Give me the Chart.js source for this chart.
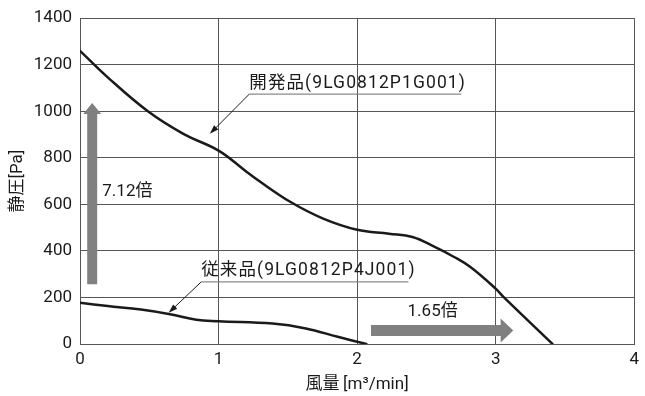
<!DOCTYPE html>
<html lang="ja">
<head>
<meta charset="utf-8">
<script src="https://cdn.jsdelivr.net/npm/chart.js@4/dist/chart.umd.min.js"></script>
<style>
  html, body { margin: 0; padding: 0; background: #fff; }
  #wrap { width: 645px; height: 396px; }
</style>
</head>
<body>
<div id="wrap"><canvas id="c" width="645" height="396"></canvas></div>
<script>
// P-Q curves: flow [m3/min] vs static pressure [Pa]
const flowDev = [0, 0.2, 0.49, 0.746, 1.0, 1.19, 1.28, 1.52, 1.755, 2.0, 2.23, 2.40, 2.56, 2.70, 2.82, 3.0, 3.06, 3.41];
const pressureDev = [1260, 1146, 1000, 903, 831, 746, 706, 610, 539, 491, 474, 460, 417, 374, 330, 238, 200, 0];
const flowConv = [0, 0.2, 0.44, 0.65, 0.84, 1.0, 1.39, 1.63, 1.86, 2.067];
const pressureConv = [177, 163, 148, 128, 104, 98, 88, 67, 31, 0];

const flowTicks = [0, 1, 2, 3, 4];
const pressureTicks = [0, 200, 400, 600, 800, 1000, 1200, 1400];

const seriesNames = ['開発品(9LG0812P1G001)', '従来品(9LG0812P4J001)'];
const ratioLabels = ['7.12倍', '1.65倍'];

const FONT = 'Roboto, "Noto Sans CJK JP", sans-serif';
const INK = '#1a1a1a';
const GRID = '#555555';
const ARROW = '#808080';

const toPoints = (xs, ys) => xs.map((x, i) => ({ x, y: ys[i] }));

// Callouts (anchored in data units) and comparison arrows
const callouts = [
  { text: seriesNames[0], x: 1.222, y: 1118, lineY: 1074, lineEnd: 2.752, tipX: 0.937, tipY: 903 },
  { text: seriesNames[1], x: 0.875, y: 315, lineY: 267, lineEnd: 2.37, tipX: 0.64, tipY: 134 }
];
const bigArrows = [
  { from: [0.088, 257], to: [0.088, 1036], shaft: 10, headLen: 11, headW: 18,
    label: ratioLabels[0], lx: 0.161, ly: 656, align: 'left' },
  { from: [2.10, 58], to: [3.127, 58], shaft: 11, headLen: 12.6, headW: 24,
    label: ratioLabels[1], lx: 2.545, ly: 139, align: 'center' }
];

function blockArrow(ctx, x1, y1, x2, y2, shaft, headLen, headW) {
  const ang = Math.atan2(y2 - y1, x2 - x1);
  const len = Math.hypot(x2 - x1, y2 - y1);
  ctx.save();
  ctx.translate(x1, y1);
  ctx.rotate(ang);
  ctx.beginPath();
  ctx.moveTo(0, -shaft / 2);
  ctx.lineTo(len - headLen, -shaft / 2);
  ctx.lineTo(len - headLen, -headW / 2);
  ctx.lineTo(len, 0);
  ctx.lineTo(len - headLen, headW / 2);
  ctx.lineTo(len - headLen, shaft / 2);
  ctx.lineTo(0, shaft / 2);
  ctx.closePath();
  ctx.fillStyle = ARROW;
  ctx.fill();
  ctx.restore();
}

function leader(ctx, x1, y1, x2, y2) {
  const ang = Math.atan2(y2 - y1, x2 - x1);
  const hl = 9, hw = 3;
  ctx.save();
  ctx.strokeStyle = INK;
  ctx.fillStyle = INK;
  ctx.lineWidth = 1;
  ctx.beginPath();
  ctx.moveTo(x1, y1);
  ctx.lineTo(x2 - Math.cos(ang) * hl * 0.8, y2 - Math.sin(ang) * hl * 0.8);
  ctx.stroke();
  ctx.translate(x2, y2);
  ctx.rotate(ang);
  ctx.beginPath();
  ctx.moveTo(0, 0);
  ctx.lineTo(-hl, -hw);
  ctx.lineTo(-hl, hw);
  ctx.closePath();
  ctx.fill();
  ctx.restore();
}

const annotate = {
  id: 'annotate',
  beforeDatasetsDraw(chart) {
    const { ctx, scales: { x, y } } = chart;
    bigArrows.forEach(a => {
      blockArrow(ctx,
        x.getPixelForValue(a.from[0]), y.getPixelForValue(a.from[1]),
        x.getPixelForValue(a.to[0]), y.getPixelForValue(a.to[1]),
        a.shaft, a.headLen, a.headW);
    });
  },
  afterDatasetsDraw(chart) {
    const { ctx, scales: { x, y } } = chart;
    ctx.save();
    ctx.font = '17px ' + FONT;
    ctx.fillStyle = INK;
    ctx.textBaseline = 'middle';
    bigArrows.forEach(a => {
      ctx.textAlign = a.align;
      ctx.fillText(a.label, x.getPixelForValue(a.lx), y.getPixelForValue(a.ly));
    });
    ctx.font = '17.5px ' + FONT;
    if ('letterSpacing' in ctx) ctx.letterSpacing = '1.1px';
    callouts.forEach(c => {
      const tx = x.getPixelForValue(c.x);
      ctx.textAlign = 'left';
      ctx.fillStyle = INK;
      ctx.fillText(c.text, tx, y.getPixelForValue(c.y));
      const ly = y.getPixelForValue(c.lineY);
      ctx.strokeStyle = '#8a8a8a';
      ctx.lineWidth = 1.3;
      ctx.beginPath();
      ctx.moveTo(tx, ly);
      ctx.lineTo(x.getPixelForValue(c.lineEnd), ly);
      ctx.stroke();
      leader(ctx, tx, ly, x.getPixelForValue(c.tipX), y.getPixelForValue(c.tipY));
    });
    ctx.restore();
  }
};

Chart.defaults.font.family = FONT;
Chart.defaults.color = INK;

new Chart(document.getElementById('c'), {
  type: 'line',
  data: {
    datasets: [
      { label: seriesNames[0], data: toPoints(flowDev, pressureDev) },
      { label: seriesNames[1], data: toPoints(flowConv, pressureConv) }
    ].map(d => Object.assign(d, {
      borderColor: INK, borderWidth: 2.5, pointRadius: 0,
      tension: 0.4, fill: false, borderCapStyle: 'round', borderJoinStyle: 'round'
    }))
  },
  options: {
    responsive: false,
    animation: false,
    events: [],
    layout: { autoPadding: false, padding: { left: 0, top: 17, right: 3, bottom: 0 } },
    plugins: { legend: { display: false }, tooltip: { enabled: false } },
    scales: {
      x: {
        type: 'linear', min: flowTicks[0], max: flowTicks[flowTicks.length - 1],
        afterBuildTicks: s => { s.ticks = flowTicks.map(v => ({ value: v })); },
        afterFit: s => { s.height = 52; },
        ticks: { font: { size: 17 }, color: INK, padding: 6, maxRotation: 0, callback: v => String(v) },
        grid: { color: GRID, lineWidth: 1, drawTicks: false },
        border: { color: GRID, width: 1 },
        title: { display: true, text: '風量\u2009[m³/min]', font: { size: 17 }, color: INK, padding: { top: 0, bottom: 1 } }
      },
      y: {
        type: 'linear', min: pressureTicks[0], max: pressureTicks[pressureTicks.length - 1],
        afterBuildTicks: s => { s.ticks = pressureTicks.map(v => ({ value: v })); },
        afterFit: s => { s.width = 80; },
        ticks: { font: { size: 17 }, color: INK, padding: 8, callback: v => String(v) },
        grid: { color: GRID, lineWidth: 1, drawTicks: false },
        border: { color: GRID, width: 1 },
        title: { display: true, text: '静圧[Pa]', font: { size: 17 }, color: INK, padding: { top: 8, bottom: 0 } }
      }
    }
  },
  plugins: [annotate]
});
</script>
</body>
</html>
